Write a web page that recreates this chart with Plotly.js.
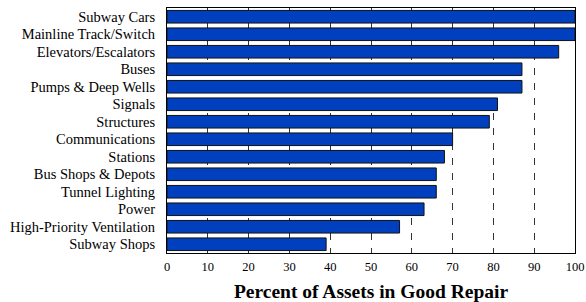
<!DOCTYPE html>
<html>
<head>
<meta charset="utf-8">
<script src="https://cdn.plot.ly/plotly-3.0.1.min.js"></script>
<style>html,body{margin:0;padding:0;background:#fff;}#chart{width:586px;height:302px;}</style>
</head>
<body>
<div id="chart"></div>
<script>
const categories = ["Subway Cars","Mainline Track/Switch","Elevators/Escalators","Buses","Pumps & Deep Wells","Signals","Structures","Communications","Stations","Bus Shops & Depots","Tunnel Lighting","Power","High-Priority Ventilation","Subway Shops"];
const values = [100,100,96,87,87,81,79,70,68,66,66,63,57,39];
const xTicks = [0,10,20,30,40,50,60,70,80,90,100];

const trace = {
  type: 'bar',
  orientation: 'h',
  y: categories,
  x: values,
  width: 0.72,
  marker: {color: '#0040BF', line: {color: '#111', width: 1}},
  hoverinfo: 'x+y'
};

const FF = 'Liberation Serif';

const layout = {
  width: 586, height: 302,
  margin: {l: 167, r: 11, t: 8, b: 49},
  paper_bgcolor: '#fff', plot_bgcolor: '#fff',
  showlegend: false,
  font: {family: FF, color: '#000', size: 13},
  xaxis: {
    range: [0, 100],
    tickvals: xTicks,
    ticktext: xTicks.map(String),
    showgrid: true,
    gridcolor: '#333',
    gridwidth: 1,
    griddash: '7px,8px',
    zeroline: false,
    showline: true, linecolor: '#000', linewidth: 1, mirror: true,
    ticks: '',
    ticklabelstandoff: 2,
    tickfont: {family: FF, size: 12.5},
    title: {text: '<b>Percent of Assets in Good Repair</b>', font: {family: FF, size: 19.5}, standoff: 11}
  },
  yaxis: {
    autorange: 'reversed',
    categoryorder: 'array',
    categoryarray: categories,
    range: [13.5, -0.5],
    showgrid: false,
    zeroline: false,
    showline: true, linecolor: '#000', linewidth: 1, mirror: true,
    ticks: '',
    ticklabelstandoff: 8,
    tickfont: {family: FF, size: 14.5}
  }
};

Plotly.newPlot('chart', [trace], layout, {displayModeBar: false, staticPlot: true});
</script>
</body>
</html>
